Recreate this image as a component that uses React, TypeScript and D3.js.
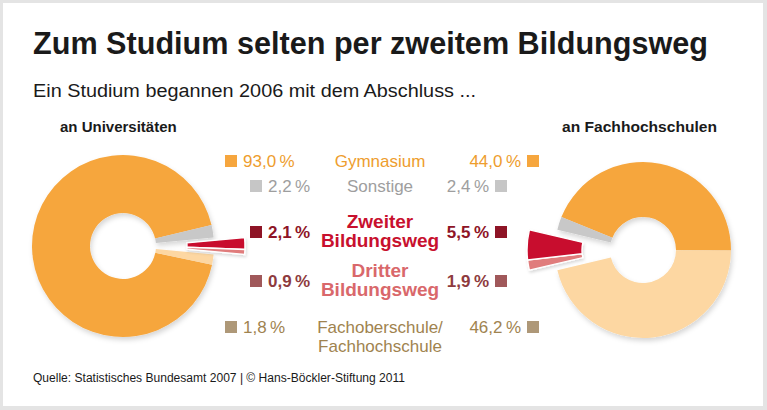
import React from "react";
import * as d3 from "d3";

const categories = ["Gymnasium", "Sonstige", "Zweiter Bildungsweg", "Dritter Bildungsweg", "Fachoberschule/Fachhochschule"];
const labelLines = [["Gymnasium"], ["Sonstige"], ["Zweiter", "Bildungsweg"], ["Dritter", "Bildungsweg"], ["Fachoberschule/", "Fachhochschule"]];
const uniValues = [93.0, 2.2, 2.1, 0.9, 1.8];
const fhValues = [44.0, 2.4, 5.5, 1.9, 46.2];
const uniLabels = ["93,0\u2009%", "2,2\u2009%", "2,1\u2009%", "0,9\u2009%", "1,8\u2009%"];
const fhLabels = ["44,0\u2009%", "2,4\u2009%", "5,5\u2009%", "1,9\u2009%", "46,2\u2009%"];
// clockwise drawing order (indices into categories)
const uniOrder = [0, 1, 2, 3, 4];
const fhOrder = [0, 4, 3, 2, 1];
const exploded = [2, 3];

const sliceColors = ["#F6A63E", "#C8C8C8", "#C8102E", "#E07C7C", "#FDD7A2"];
const squareColors = ["#F6A63E", "#C6C6C6", "#8E1426", "#A0585A", "#AE9878"];
const labelColors = ["#EE9D2E", "#9E9E9E", "#C8102E", "#D9686B", "#A0834F"];
const pctColors = ["#EE9D2E", "#9E9E9E", "#8E1426", "#8E3B3E", "#A0834F"];
const boldRow = [false, false, true, true, false];

const rowBase = [167, 192, 238, 287, 333];
const rowLine1 = [167, 192, 228, 277, 333];
const rowIndent = [false, true, true, true, false];

const W = 767, H = 410;

function Donut({ values, order, cx, cy, target, rIn, rOut, off }: any) {
  const ordered = order.map((i: number) => ({ i, v: values[i] }));
  const total = d3.sum(values as number[]);
  let before = 0;
  for (const o of ordered) {
    if (exploded.includes(o.i)) break;
    before += o.v;
  }
  const grp = d3.sum(exploded.map((i) => values[i]));
  const start = target - ((before + grp / 2) / total) * 2 * Math.PI;
  const pie = d3.pie<any>().sort(null).value((d: any) => d.v).startAngle(start).endAngle(start + 2 * Math.PI);
  const arcs = pie(ordered);
  const arc = d3.arc<any>().innerRadius(rIn).outerRadius(rOut);
  const dx = Math.sin(target) * off, dy = -Math.cos(target) * off;
  return (
    <g transform={`translate(${cx},${cy})`}>
      <g filter="url(#shadow)">
        {arcs.filter((a: any) => !exploded.includes(a.data.i)).map((a: any) => (
          <path key={a.data.i} d={arc(a) as string} fill={sliceColors[a.data.i]} />
        ))}
      </g>
      <g transform={`translate(${dx},${dy})`} filter="url(#shadow2)">
        {arcs.filter((a: any) => exploded.includes(a.data.i)).map((a: any) => (
          <path key={a.data.i} d={arc(a) as string} fill={sliceColors[a.data.i]} stroke="#fff" strokeWidth={1.4} />
        ))}
      </g>
    </g>
  );
}

export default function App() {
  const sans = "'Liberation Sans', Arial, Helvetica, sans-serif";
  const narrow = "'Liberation Sans Narrow', 'Arial Narrow', 'Liberation Sans', Arial, sans-serif";
  return (
    <svg width={W} height={H} style={{ position: "absolute", left: 0, top: 0, display: "block" }}>
      <defs>
        <filter id="shadow" x="-30%" y="-30%" width="160%" height="160%">
          <feDropShadow dx="1.5" dy="3" stdDeviation="2.5" floodColor="#000" floodOpacity="0.16" />
        </filter>
        <filter id="shadow2" x="-30%" y="-30%" width="160%" height="160%">
          <feDropShadow dx="1" dy="2" stdDeviation="1.5" floodColor="#000" floodOpacity="0.15" />
        </filter>
      </defs>
      <rect x={0} y={0} width={W} height={H} fill="#E4E4E4" />
      <rect x={3} y={3} width={760} height={403} fill="#FFFFFF" />

      <text x={33} y={54} fontFamily={narrow} fontWeight="bold" fontSize={31} fill="#1A1A1A" textLength={675} lengthAdjust="spacingAndGlyphs">
        Zum Studium selten per zweitem Bildungsweg
      </text>
      <text x={33} y={97} fontFamily={narrow} fontSize={18} fill="#1A1A1A" textLength={443} lengthAdjust="spacingAndGlyphs">
        Ein Studium begannen 2006 mit dem Abschluss ...
      </text>
      <text x={60} y={132} fontFamily={sans} fontWeight="bold" fontSize={15} fill="#1A1A1A">an Universitäten</text>
      <text x={562} y={132} fontFamily={sans} fontWeight="bold" fontSize={15} fill="#1A1A1A" textLength={155} lengthAdjust="spacingAndGlyphs">an Fachhochschulen</text>

      <Donut values={uniValues} order={uniOrder} cx={123} cy={246} target={Math.PI / 2} rIn={33} rOut={91} off={31} />
      <Donut values={fhValues} order={fhOrder} cx={643} cy={250} target={(3 * Math.PI) / 2} rIn={33} rOut={88} off={28} />

      {categories.map((c, i) => {
        const lx = rowIndent[i] ? 250 : 225;
        const rx = rowIndent[i] ? 495 : 527;
        const sqY = rowBase[i] - 12;
        return (
          <g key={c}>
            <rect x={lx} y={sqY} width={12} height={12} fill={squareColors[i]} />
            <rect x={rx} y={sqY} width={12} height={12} fill={squareColors[i]} />
            <text x={lx + 18} y={rowBase[i]} fontFamily={sans} fontSize={17} fontWeight={boldRow[i] ? "bold" : "normal"} fill={pctColors[i]}>
              {uniLabels[i]}
            </text>
            <text x={rx - 6} y={rowBase[i]} textAnchor="end" fontFamily={sans} fontSize={17} fontWeight={boldRow[i] ? "bold" : "normal"} fill={pctColors[i]}>
              {fhLabels[i]}
            </text>
            {labelLines[i].map((t, k) => (
              <text key={k} x={380} y={rowLine1[i] + k * 19} textAnchor="middle" fontFamily={sans} fontSize={boldRow[i] ? 19 : 17} fontWeight={boldRow[i] ? "bold" : "normal"} fill={labelColors[i]}>
                {t}
              </text>
            ))}
          </g>
        );
      })}

      <text x={33} y={382} fontFamily={narrow} fontSize={12.5} fill="#1A1A1A" textLength={372} lengthAdjust="spacingAndGlyphs">
        Quelle: Statistisches Bundesamt 2007 | © Hans-Böckler-Stiftung 2011
      </text>
    </svg>
  );
}
